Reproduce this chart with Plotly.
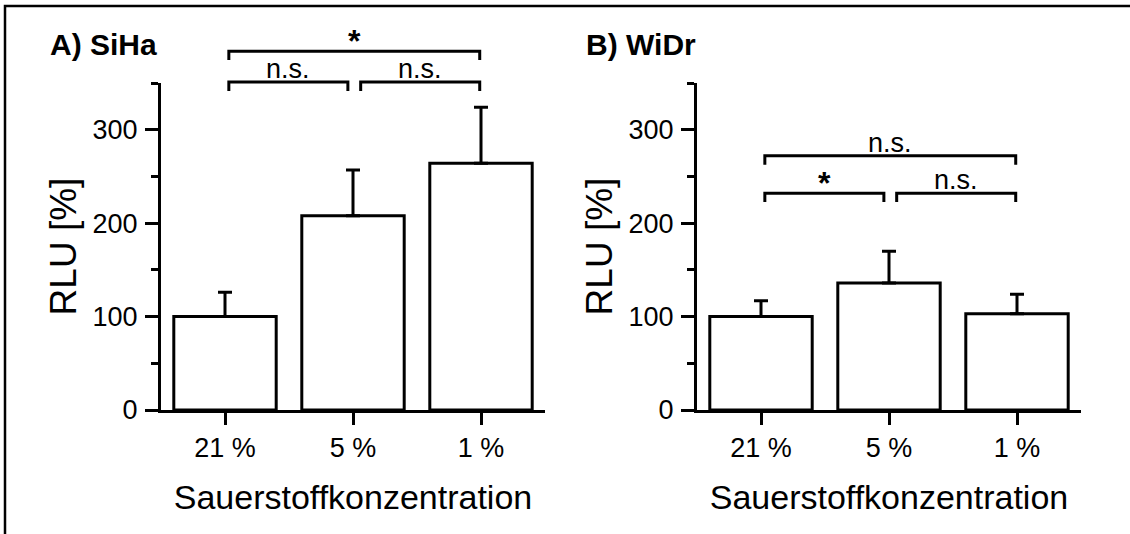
import plotly.graph_objects as go
from plotly.subplots import make_subplots

##############################################################################
# Data
##############################################################################
categories = ["21 %", "5 %", "1 %"]

siha_mean = [100, 208, 264]
siha_err = [26, 49, 60]

widr_mean = [100, 136, 103]
widr_err = [17, 34, 21]

y_ticks = [0, 100, 200, 300]
y_minor = [50, 150, 250, 350]
y_max = 350

# significance brackets: (from category, to category, height, label)
siha_sig = [(0, 2, 384, "*"), (0, 1, 351, "n.s."), (1, 2, 351, "n.s.")]
widr_sig = [(0, 2, 272, "n.s."), (0, 1, 232, "*"), (1, 2, 232, "n.s.")]

panel_titles = ["A) SiHa", "B) WiDr"]
x_title = "Sauerstoffkonzentration"
y_title = "RLU [%]"

##############################################################################
# Figure
##############################################################################
FONT = "Arial, Liberation Sans, sans-serif"
W, H = 1130, 534

fig = make_subplots(rows=1, cols=2)

for col, (mean, err) in enumerate([(siha_mean, siha_err), (widr_mean, widr_err)], start=1):
    fig.add_trace(go.Bar(
        x=categories, y=mean, width=0.8,
        marker=dict(color="white", line=dict(color="black", width=3)),
        error_y=dict(type="data", symmetric=False, array=err,
                     arrayminus=[0] * len(err), color="black",
                     thickness=3, width=7),
        showlegend=False), 1, col)

x_common = dict(
    range=[-0.5, 2.5], showline=True, linewidth=3, linecolor="black",
    ticks="outside", ticklen=12, tickwidth=3, tickcolor="black",
    tickfont=dict(size=27, color="black"), ticklabelstandoff=0,
    showgrid=False, zeroline=False,
    title=dict(text=x_title, font=dict(size=34, color="black"), standoff=23),
)
y_common = dict(
    range=[0, y_max], tickvals=y_ticks, showline=True, linewidth=3,
    linecolor="black", ticks="outside", ticklen=13, tickwidth=3,
    tickcolor="black", tickfont=dict(size=27, color="black"),
    ticklabelstandoff=2, showgrid=False, zeroline=False,
    minor=dict(tickvals=y_minor, ticks="outside", ticklen=7, tickwidth=3,
               tickcolor="black", showgrid=False),
    title=dict(text=y_title, font=dict(size=37, color="black"), standoff=5),
)

y_dom = [(H - 410) / H, (H - 83) / H]
fig.update_layout(
    xaxis=dict(x_common, domain=[161 / W, 545 / W]),
    xaxis2=dict(x_common, domain=[697 / W, 1081 / W]),
    yaxis=dict(y_common, domain=y_dom),
    yaxis2=dict(y_common, domain=y_dom),
)

# brackets and labels, in domain units of each subplot so they may sit above the axis
n_cat = len(categories)
x_dom = lambda v: (v + 0.5) / n_cat
y_dom_v = lambda v: v / y_max
tick_down = 9.5

for col, sig in [(1, siha_sig), (2, widr_sig)]:
    xr = "x domain" if col == 1 else "x2 domain"
    yr = "y domain" if col == 1 else "y2 domain"
    for a, b, h, label in sig:
        x0 = a + (0.06 if a == 1 else 0.03)
        x1 = b - (0.04 if b == 1 else 0.01)
        path = "M {},{} L {},{} L {},{} L {},{}".format(
            x_dom(x0), y_dom_v(h - tick_down), x_dom(x0), y_dom_v(h),
            x_dom(x1), y_dom_v(h), x_dom(x1), y_dom_v(h - tick_down))
        fig.add_shape(type="path", path=path, xref=xr, yref=yr,
                      line=dict(color="black", width=3))
        if label == "*":
            txt, size, shift = "<b>*</b>", 32, -10
        else:
            txt, size, shift = label, 27, -4
        fig.add_annotation(text=txt, x=x_dom((x0 + x1) / 2), y=y_dom_v(h),
                           xref=xr, yref=yr, xanchor="center", yanchor="bottom",
                           yshift=shift, showarrow=False,
                           font=dict(size=size, color="black"))
    fig.add_annotation(text="<b>" + panel_titles[col - 1] + "</b>", x=-0.293, y=1.119,
                       xref=xr, yref=yr, xanchor="left", yanchor="middle",
                       showarrow=False, font=dict(size=30, color="black"))

# outer frame (cropped on the right and bottom)
fig.add_shape(type="rect", xref="paper", yref="paper", x0=5 / W, x1=1.05,
              y0=-0.05, y1=1 - 6 / H, line=dict(color="black", width=2.5))

fig.update_layout(
    width=W, height=H, margin=dict(l=0, r=0, t=0, b=0, autoexpand=False),
    paper_bgcolor="white", plot_bgcolor="white",
    font=dict(family=FONT, color="black"),
    bargap=0.2,
)

fig.write_html("out.html", config={"displayModeBar": False},
               post_script="document.body.style.margin = '0';")
